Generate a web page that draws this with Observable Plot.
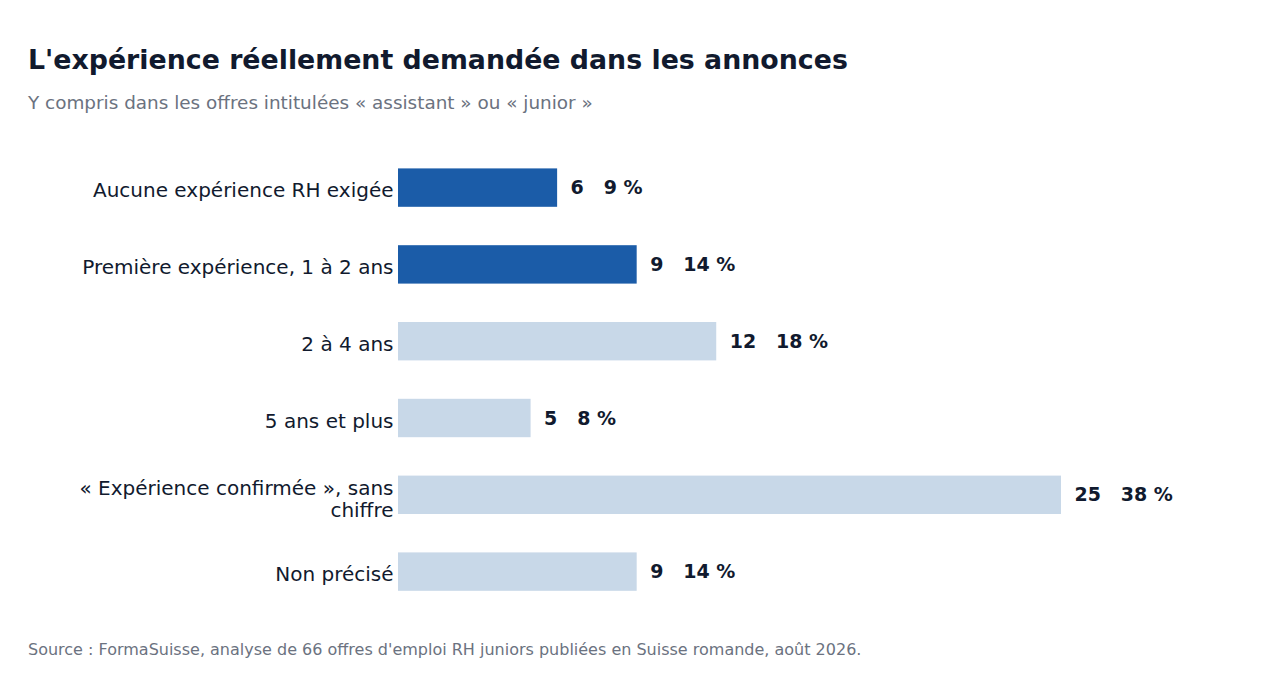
<!DOCTYPE html>
<html><head><meta charset="utf-8">
<script src="https://cdn.jsdelivr.net/npm/d3@7"></script>
<script src="https://cdn.jsdelivr.net/npm/@observablehq/plot@0.6"></script>
<style>
body{margin:0;background:#fff;font-family:"DejaVu Sans",sans-serif;width:1265px;height:678px;position:relative;overflow:hidden}
#title{position:absolute;left:28px;top:44px;font-size:26.8px;font-weight:bold;color:#111a2e;white-space:nowrap}
#sub{position:absolute;left:28px;top:92px;font-size:18.4px;color:#6b7280;white-space:nowrap}
#chart{position:absolute;left:0;top:120px}
#src{position:absolute;left:28px;top:640px;font-size:16px;color:#6b7280;white-space:nowrap}
</style></head><body>
<div id="title">L'expérience réellement demandée dans les annonces</div>
<div id="sub">Y compris dans les offres intitulées « assistant » ou « junior »</div>
<div id="chart"></div>
<div id="src">Source : FormaSuisse, analyse de 66 offres d'emploi RH juniors publiées en Suisse romande, août 2026.</div>
<script>
const categories = ["Aucune expérience RH exigée","Première expérience, 1 à 2 ans","2 à 4 ans","5 ans et plus","« Expérience confirmée », sans chiffre","Non précisé"];
const tickLabels = ["Aucune expérience RH exigée","Première expérience, 1 à 2 ans","2 à 4 ans","5 ans et plus","« Expérience confirmée », sans\nchiffre","Non précisé"];
const counts = [6, 9, 12, 5, 25, 9];
const percents = [9, 14, 18, 8, 38, 14];
const highlighted = [true, true, false, false, false, false];

const data = categories.map((c, i) => ({cat: c, n: counts[i], pct: percents[i], hi: highlighted[i], label: `${counts[i]}   ${percents[i]} %`}));
const tickMap = new Map(categories.map((c, i) => [c, tickLabels[i]]));
const singleLine = categories.filter(c => !tickMap.get(c).includes("\n"));
const multiLine = categories.filter(c => tickMap.get(c).includes("\n"));

const axisOpts = {tickSize: 0, tickPadding: 5, fontSize: 20, color: "#111a2e", tickFormat: d => tickMap.get(d), label: null, lineHeight: 1.1};

const chart = Plot.plot({
  width: 1265,
  height: 520,
  marginTop: 10,
  marginBottom: 10.8,
  marginLeft: 398,
  marginRight: 204,
  style: {fontFamily: "DejaVu Sans, sans-serif", background: "#fff"},
  x: {domain: [0, 25], axis: null},
  y: {domain: categories, padding: 0.5, round: false, label: null},
  marks: [
    Plot.barX(data, {y: "cat", x: "n", fill: d => d.hi ? "#1b5ca8" : "#c8d8e8"}),
    Plot.text(data, {y: "cat", x: "n", text: "label", textAnchor: "start", dx: 13, fontSize: 19, fontWeight: "bold", fill: "#111a2e"}),
    Plot.axisY({...axisOpts, ticks: singleLine, dy: 2}),
    Plot.axisY({...axisOpts, ticks: multiLine, dy: 4})
  ]
});
chart.querySelectorAll("text").forEach(t => t.style.whiteSpace = "pre");
document.getElementById("chart").appendChild(chart);
</script>
</body></html>
